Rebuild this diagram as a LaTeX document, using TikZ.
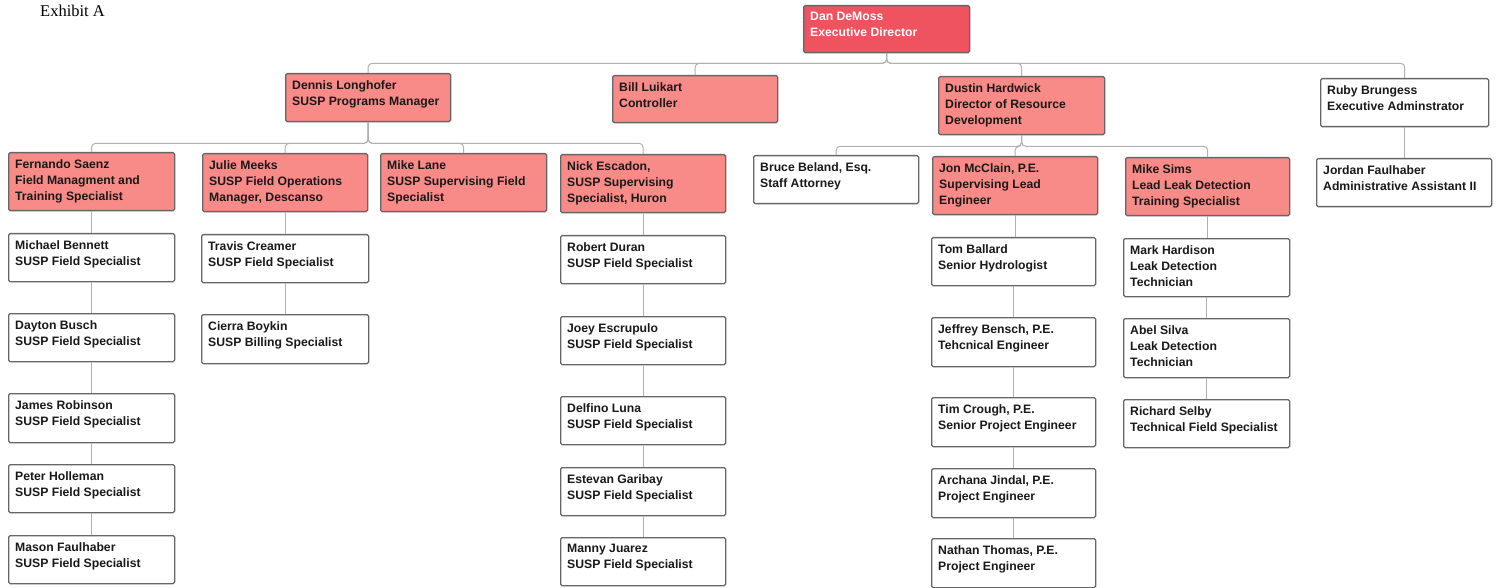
\documentclass[tikz,border=0pt]{standalone}
\usepackage{fontspec}
\setmainfont{Liberation Sans}
\newfontfamily\exhibitfont{Liberation Serif}
\definecolor{topred}{HTML}{EF5360}
\definecolor{salmon}{HTML}{F88B87}
\definecolor{edge}{HTML}{666666}
\definecolor{conncol}{HTML}{B0B0B0}
\begin{document}
\begin{tikzpicture}[x=1pt,y=-1pt,
  boxbase/.style={draw=edge, line width=1.3pt, rounded corners=1.5pt, inner sep=0pt},
  topbox/.style={boxbase, fill=topred},
  redbox/.style={boxbase, fill=salmon},
  whitebox/.style={boxbase, fill=white},
  txt/.style={inner sep=0pt, align=left, font=\fontsize{12.2}{16}\selectfont\bfseries, text=black!90},
  wtxt/.style={txt, text=white},
  conn/.style={draw=conncol, line width=1pt, rounded corners=4pt}]
\useasboundingbox (0,0) rectangle (1499,588);
\newcommand\obox[8]{%
  \node[#1, minimum width={#5-#3}, minimum height={#6-#4}, anchor=north west] (#2) at (#3,#4) {};
  \node[#7, anchor=north west] (#2t) at ([xshift=7pt,yshift=-7pt]#2.north west) {#8};
}
\newcommand\vlink[2]{\draw[conn] (#1.south) -- (#1.south |- #2.north);}
\node[inner sep=0pt, anchor=base west, font=\exhibitfont\fontsize{16.5}{18}\selectfont] (exh) at (40,17) {Exhibit A};
% level 1
\obox{topbox}{dan}{803}{5}{969}{52}{wtxt}{Dan DeMoss\\Executive Director}
% level 2
\obox{redbox}{dennis}{285}{73}{450}{121}{txt}{Dennis Longhofer\\SUSP Programs Manager}
\obox{redbox}{bill}{612}{75}{777}{122}{txt}{Bill Luikart\\Controller}
\obox{redbox}{dustin}{938}{76}{1104}{134}{txt}{Dustin Hardwick\\Director of Resource\\Development}
\obox{whitebox}{ruby}{1320}{78}{1488}{126}{txt}{Ruby Brungess\\Executive Adminstrator}
% level 3
\obox{redbox}{fernando}{8}{152}{174}{210}{txt}{Fernando Saenz\\Field Managment and\\Training Specialist}
\obox{redbox}{julie}{202}{153}{367}{211}{txt}{Julie Meeks\\SUSP Field Operations\\Manager, Descanso}
\obox{redbox}{mikelane}{380}{153}{546}{211}{txt}{Mike Lane\\SUSP Supervising Field\\Specialist}
\obox{redbox}{nick}{560}{154}{725}{212}{txt}{Nick Escadon,\\SUSP Supervising\\Specialist, Huron}
\obox{whitebox}{bruce}{753}{155}{918}{203}{txt}{Bruce Beland, Esq.\\Staff Attorney}
\obox{redbox}{jon}{932}{156}{1097}{214}{txt}{Jon McClain, P.E.\\Supervising Lead\\Engineer}
\obox{redbox}{mikesims}{1125}{157}{1289}{215}{txt}{Mike Sims\\Lead Leak Detection\\Training Specialist}
\obox{whitebox}{jordan}{1316}{158}{1491}{206}{txt}{Jordan Faulhaber\\Administrative Assistant II}
% Fernando column
\obox{whitebox}{michael}{8}{233}{174}{281}{txt}{Michael Bennett\\SUSP Field Specialist}
\obox{whitebox}{dayton}{8}{313}{174}{361}{txt}{Dayton Busch\\SUSP Field Specialist}
\obox{whitebox}{james}{8}{393}{174}{442}{txt}{James Robinson\\SUSP Field Specialist}
\obox{whitebox}{peter}{8}{464}{174}{512}{txt}{Peter Holleman\\SUSP Field Specialist}
\obox{whitebox}{mason}{8}{535}{174}{583}{txt}{Mason Faulhaber\\SUSP Field Specialist}
% Julie column
\obox{whitebox}{travis}{201}{234}{368}{282}{txt}{Travis Creamer\\SUSP Field Specialist}
\obox{whitebox}{cierra}{201}{314}{368}{363}{txt}{Cierra Boykin\\SUSP Billing Specialist}
% Nick column
\obox{whitebox}{robert}{560}{235}{725}{283}{txt}{Robert Duran\\SUSP Field Specialist}
\obox{whitebox}{joey}{560}{316}{725}{364}{txt}{Joey Escrupulo\\SUSP Field Specialist}
\obox{whitebox}{delfino}{560}{396}{725}{444}{txt}{Delfino Luna\\SUSP Field Specialist}
\obox{whitebox}{estevan}{560}{467}{725}{515}{txt}{Estevan Garibay\\SUSP Field Specialist}
\obox{whitebox}{manny}{560}{537}{725}{585}{txt}{Manny Juarez\\SUSP Field Specialist}
% Jon column
\obox{whitebox}{tom}{931}{237}{1095}{285}{txt}{Tom Ballard\\Senior Hydrologist}
\obox{whitebox}{jeffrey}{931}{317}{1095}{366}{txt}{Jeffrey Bensch, P.E.\\Tehcnical Engineer}
\obox{whitebox}{tim}{931}{397}{1095}{446}{txt}{Tim Crough, P.E.\\Senior Project Engineer}
\obox{whitebox}{archana}{931}{468}{1095}{517}{txt}{Archana Jindal, P.E.\\Project Engineer}
\obox{whitebox}{nathan}{931}{538}{1095}{587}{txt}{Nathan Thomas, P.E.\\Project Engineer}
% Mike Sims column
\obox{whitebox}{mark}{1123}{238}{1289}{296}{txt}{Mark Hardison\\Leak Detection\\Technician}
\obox{whitebox}{abel}{1123}{318}{1289}{377}{txt}{Abel Silva\\Leak Detection\\Technician}
\obox{whitebox}{richard}{1123}{399}{1289}{447}{txt}{Richard Selby\\Technical Field Specialist}
% connectors
\foreach \c in {dennis,bill,dustin,ruby}{\draw[conn] (dan.south) -- ++(0,10) -| (\c.north);}
\foreach \c in {fernando,julie,mikelane,nick}{\draw[conn] (dennis.south) -- ++(0,21) -| (\c.north);}
\foreach \c in {bruce,jon,mikesims}{\draw[conn] (dustin.south) -- ++(0,11) -| (\c.north);}
\vlink{ruby}{jordan}
\vlink{fernando}{michael}
\vlink{michael}{dayton}
\vlink{dayton}{james}
\vlink{james}{peter}
\vlink{peter}{mason}
\vlink{julie}{travis}
\vlink{travis}{cierra}
\vlink{nick}{robert}
\vlink{robert}{joey}
\vlink{joey}{delfino}
\vlink{delfino}{estevan}
\vlink{estevan}{manny}
\vlink{jon}{tom}
\vlink{tom}{jeffrey}
\vlink{jeffrey}{tim}
\vlink{tim}{archana}
\vlink{archana}{nathan}
\vlink{mikesims}{mark}
\vlink{mark}{abel}
\vlink{abel}{richard}
\end{tikzpicture}
\end{document}
